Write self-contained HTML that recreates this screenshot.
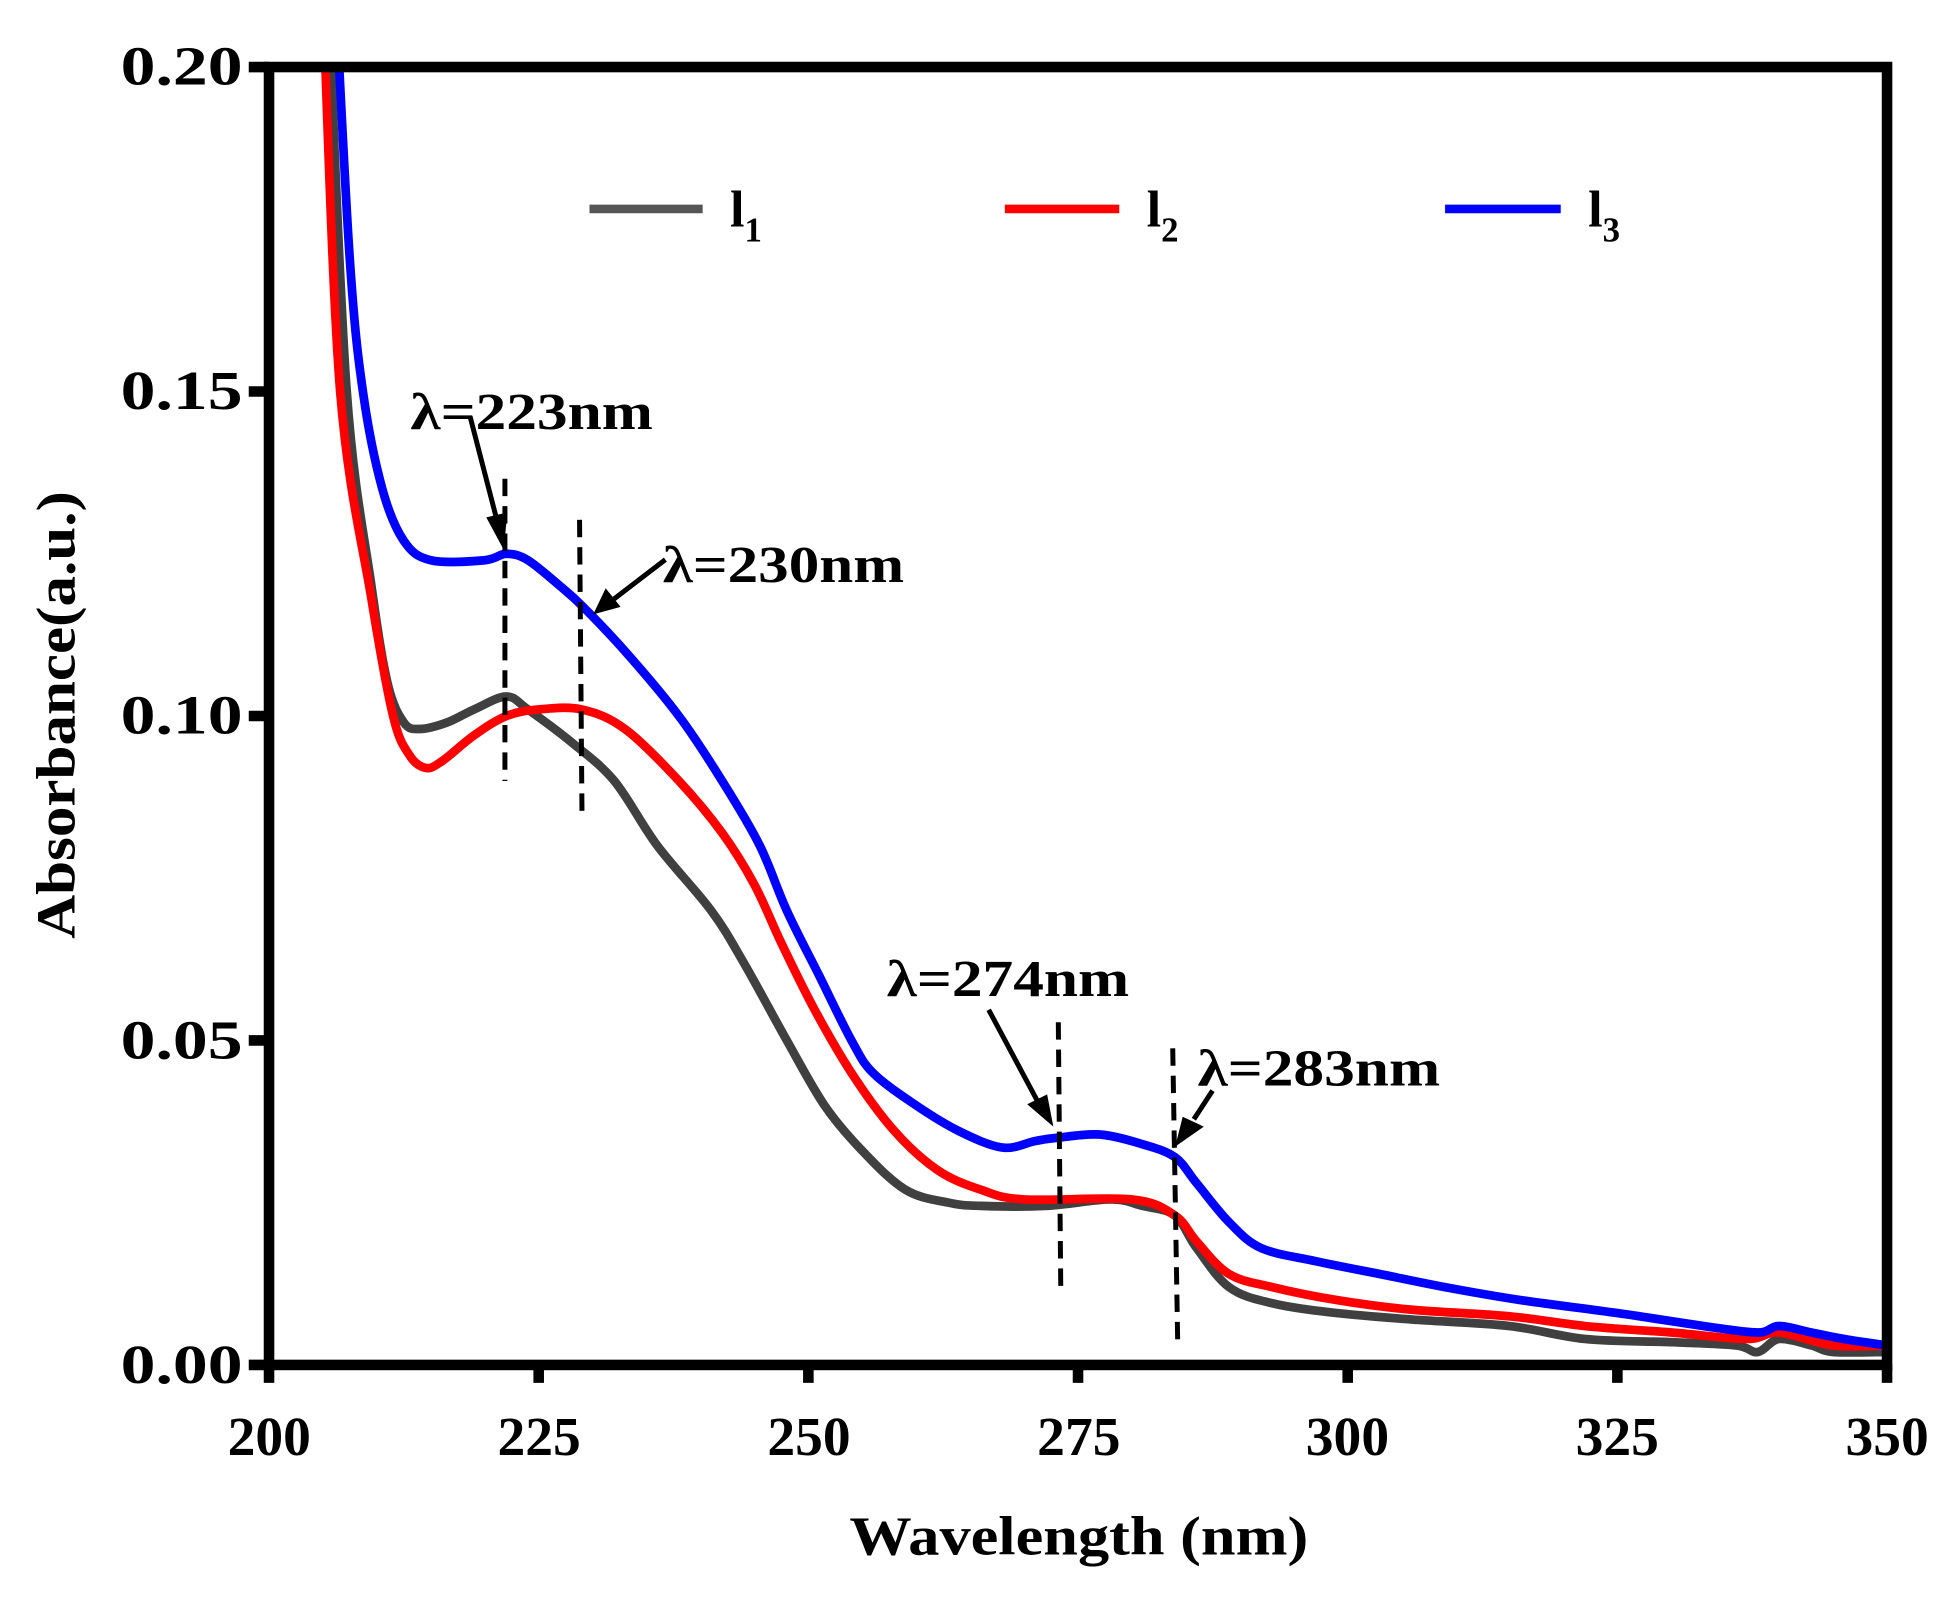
<!DOCTYPE html>
<html><head><meta charset="utf-8"><style>
html,body{margin:0;padding:0;background:#fff;}
svg{display:block;}
text{font-family:"Liberation Serif",serif;font-weight:bold;fill:#000;}
</style></head><body>
<svg id="s" width="1950" height="1597" viewBox="0 0 1568 1284.2" xmlns="http://www.w3.org/2000/svg">
<defs><clipPath id="c"><rect x="216.3" y="53.9" width="1301.1" height="1043.7"/></clipPath></defs>
<g clip-path="url(#c)" fill="none" stroke-width="7" stroke-linejoin="round" stroke-linecap="round">
<path id="p1" stroke="#404040"/>
<path id="p2" stroke="#ff0000"/>
<path id="p3" stroke="#0000ff"/>
</g>
<g stroke="#000" stroke-width="4" stroke-dasharray="14,8">
<line x1="406" y1="385" x2="406" y2="628"/>
<line x1="466" y1="418" x2="468" y2="658"/>
<line x1="851" y1="822" x2="853" y2="1040"/>
<line x1="943" y1="843" x2="947" y2="1080"/>
</g>
<g stroke="#000" stroke-width="4">
<line x1="378" y1="335" x2="400" y2="420"/>
<line x1="535" y1="450" x2="492" y2="483"/>
<line x1="795" y1="812" x2="834" y2="885"/>
<line x1="975" y1="877" x2="960" y2="900"/>
</g>
<g fill="#000">
<polygon points="405,442 391,416 408,412"/>
<polygon points="477,494 487,473 499,488"/>
<polygon points="847,906 826,888 842,880"/>
<polygon points="945,922 951,898 968,906"/>
</g>
<rect x="216.3" y="53.9" width="1301.1" height="1043.7" fill="none" stroke="#000" stroke-width="8.5"/>
<g stroke="#000" stroke-width="8.5" id="ticks"></g>
<g font-size="44" lengthAdjust="spacingAndGlyphs">
<text x="97" y="1112" textLength="98" lengthAdjust="spacingAndGlyphs">0.00</text>
<text x="97" y="851" textLength="98" lengthAdjust="spacingAndGlyphs">0.05</text>
<text x="97" y="590" textLength="98" lengthAdjust="spacingAndGlyphs">0.10</text>
<text x="97" y="329" textLength="98" lengthAdjust="spacingAndGlyphs">0.15</text>
<text x="97" y="68" textLength="98" lengthAdjust="spacingAndGlyphs">0.20</text>
</g>
<g font-size="44">
<text x="183" y="1170" textLength="67" lengthAdjust="spacingAndGlyphs">200</text>
<text x="400" y="1170" textLength="67" lengthAdjust="spacingAndGlyphs">225</text>
<text x="617" y="1170" textLength="67" lengthAdjust="spacingAndGlyphs">250</text>
<text x="834" y="1170" textLength="67" lengthAdjust="spacingAndGlyphs">275</text>
<text x="1050" y="1170" textLength="67" lengthAdjust="spacingAndGlyphs">300</text>
<text x="1267" y="1170" textLength="67" lengthAdjust="spacingAndGlyphs">325</text>
<text x="1484" y="1170" textLength="67" lengthAdjust="spacingAndGlyphs">350</text>
</g>
<text x="683" y="1250" font-size="44" textLength="369" lengthAdjust="spacingAndGlyphs">Wavelength (nm)</text>
<text transform="translate(60,755) rotate(-90)" font-size="44" textLength="360" lengthAdjust="spacingAndGlyphs">Absorbance(a.u.)</text>
<g font-size="42">
<text x="330" y="345" textLength="195" lengthAdjust="spacingAndGlyphs">λ=223nm</text>
<text x="533" y="468" textLength="194" lengthAdjust="spacingAndGlyphs">λ=230nm</text>
<text x="713" y="801" textLength="195" lengthAdjust="spacingAndGlyphs">λ=274nm</text>
<text x="963" y="873" textLength="195" lengthAdjust="spacingAndGlyphs">λ=283nm</text>
</g>
<g stroke-width="7">
<line x1="474" y1="168" x2="565" y2="168" stroke="#555"/>
<line x1="808" y1="168" x2="900" y2="168" stroke="#ff0000"/>
<line x1="1162" y1="168" x2="1255" y2="168" stroke="#0000ff"/>
</g>
<g font-size="42">
<text x="587" y="182">l<tspan font-size="28" dy="12">1</tspan></text>
<text x="922" y="182">l<tspan font-size="28" dy="12">2</tspan></text>
<text x="1277" y="182">l<tspan font-size="28" dy="12">3</tspan></text>
</g>
</svg>
<script>
var X0=216.3,X1=1517.4,Y0=1097.6,Y1=53.9;
function px(n){return X0+(n-200)/150*(X1-X0);}
function py(a){return Y0-a/0.2*(Y0-Y1);}
function path(d){
  var p=d.map(function(q){return [px(q[0]),py(q[1])];});
  var s="M"+p[0][0].toFixed(1)+","+p[0][1].toFixed(1);
  for(var i=0;i<p.length-1;i++){
    var p0=p[i-1]||p[i],p1=p[i],p2=p[i+1],p3=p[i+2]||p2;
    var c1x=p1[0]+(p2[0]-p0[0])/6,c1y=p1[1]+(p2[1]-p0[1])/6;
    var c2x=p2[0]-(p3[0]-p1[0])/6,c2y=p2[1]-(p3[1]-p1[1])/6;
    s+="C"+c1x.toFixed(1)+","+c1y.toFixed(1)+" "+c2x.toFixed(1)+","+c2y.toFixed(1)+" "+p2[0].toFixed(1)+","+p2[1].toFixed(1);
  }
  return s;
}
var g=[[205.5,0.21],[207.2,0.15],[209.5,0.12],[211,0.105],[212.5,0.099],[214,0.098],[216.5,0.099],[219,0.101],[222,0.103],[224,0.101],[228,0.096],[232,0.09],[236,0.08],[241,0.07],[244,0.062],[248,0.05],[251.5,0.04],[255,0.033],[259,0.027],[263,0.025],[266,0.0245],[272,0.0245],[278,0.0255],[281,0.0245],[284,0.023],[286,0.018],[289,0.012],[293,0.0095],[299,0.008],[306,0.007],[315,0.006],[322,0.004],[330,0.0035],[336,0.003],[338,0.002],[340,0.004],[343,0.003],[345,0.002],[350,0.002]];
var r=[[205,0.21],[206.6,0.15],[209.5,0.118],[211.5,0.1],[213,0.094],[214.5,0.092],[216,0.093],[219,0.097],[222,0.1],[225,0.101],[229,0.101],[233,0.098],[238,0.09],[242,0.082],[245,0.074],[247.5,0.065],[250.5,0.055],[254,0.045],[258,0.036],[262,0.03],[266,0.027],[270,0.0255],[280,0.0255],[284,0.023],[286,0.019],[289,0.014],[293,0.012],[299,0.01],[306,0.0085],[315,0.0075],[322,0.006],[330,0.005],[337,0.004],[340,0.005],[345,0.003],[350,0.003]];
var b=[[206.2,0.21],[207.5,0.17],[208.7,0.15],[210.5,0.135],[212.5,0.127],[215,0.124],[220,0.124],[222,0.125],[224,0.124],[227,0.12],[229,0.117],[233,0.11],[238,0.1],[242,0.09],[245.5,0.08],[248,0.07],[251,0.06],[254,0.05],[256,0.045],[260,0.04],[264,0.036],[268,0.0335],[271,0.0345],[273,0.035],[277,0.0355],[281,0.034],[284,0.032],[286,0.028],[289,0.022],[292,0.018],[297,0.016],[303,0.014],[309,0.012],[316,0.01],[325,0.008],[333,0.006],[338,0.005],[340,0.006],[343,0.005],[346,0.004],[350,0.003]];
document.getElementById("p1").setAttribute("d",path(g));
document.getElementById("p2").setAttribute("d",path(r));
document.getElementById("p3").setAttribute("d",path(b));
var t="";
for(var v=200;v<=350;v+=25){var x=px(v);t+='<line x1="'+x+'" y1="1097" x2="'+x+'" y2="1112"/>';}
for(var a=0;a<=0.2001;a+=0.05){var y=py(a);t+='<line x1="200" y1="'+y+'" x2="216" y2="'+y+'"/>';}
document.getElementById("ticks").innerHTML=t;
</script>
</body></html>
